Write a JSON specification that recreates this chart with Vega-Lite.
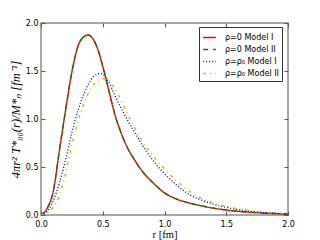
{
  "$schema": "https://vega.github.io/schema/vega-lite/v6.json",
  "width": 247,
  "height": 192,
  "autosize": "none",
  "padding": {"left": 41, "top": 23, "right": 32, "bottom": 25},
  "background": "white",
  "config": {
    "view": {"stroke": "#8a8a8a", "strokeWidth": 1.5},
    "axis": {"domain": false, "grid": false, "labelFlush": false, "labelFont": "DejaVu Sans", "labelFontSize": 8, "labelColor": "#000", "tickColor": "#555", "tickSize": -4, "titleFont": "Liberation Serif", "titleFontWeight": "normal", "titleColor": "#000"}
  },
  "datasets": {
    "curves": [
      {"r": 0.0, "v": 0.0, "s": "ρ=0  Model I"},
      {"r": 0.05, "v": 0.07, "s": "ρ=0  Model I"},
      {"r": 0.1, "v": 0.25, "s": "ρ=0  Model I"},
      {"r": 0.15, "v": 0.68, "s": "ρ=0  Model I"},
      {"r": 0.2, "v": 1.1, "s": "ρ=0  Model I"},
      {"r": 0.25, "v": 1.49, "s": "ρ=0  Model I"},
      {"r": 0.3, "v": 1.76, "s": "ρ=0  Model I"},
      {"r": 0.35, "v": 1.86, "s": "ρ=0  Model I"},
      {"r": 0.38, "v": 1.875, "s": "ρ=0  Model I"},
      {"r": 0.4, "v": 1.865, "s": "ρ=0  Model I"},
      {"r": 0.45, "v": 1.76, "s": "ρ=0  Model I"},
      {"r": 0.5, "v": 1.55, "s": "ρ=0  Model I"},
      {"r": 0.55, "v": 1.29, "s": "ρ=0  Model I"},
      {"r": 0.6, "v": 1.04, "s": "ρ=0  Model I"},
      {"r": 0.65, "v": 0.85, "s": "ρ=0  Model I"},
      {"r": 0.7, "v": 0.7, "s": "ρ=0  Model I"},
      {"r": 0.75, "v": 0.59, "s": "ρ=0  Model I"},
      {"r": 0.8, "v": 0.49, "s": "ρ=0  Model I"},
      {"r": 0.85, "v": 0.41, "s": "ρ=0  Model I"},
      {"r": 0.9, "v": 0.345, "s": "ρ=0  Model I"},
      {"r": 1.0, "v": 0.23, "s": "ρ=0  Model I"},
      {"r": 1.1, "v": 0.165, "s": "ρ=0  Model I"},
      {"r": 1.2, "v": 0.125, "s": "ρ=0  Model I"},
      {"r": 1.3, "v": 0.095, "s": "ρ=0  Model I"},
      {"r": 1.4, "v": 0.07, "s": "ρ=0  Model I"},
      {"r": 1.5, "v": 0.052, "s": "ρ=0  Model I"},
      {"r": 1.6, "v": 0.038, "s": "ρ=0  Model I"},
      {"r": 1.7, "v": 0.028, "s": "ρ=0  Model I"},
      {"r": 1.8, "v": 0.02, "s": "ρ=0  Model I"},
      {"r": 1.9, "v": 0.015, "s": "ρ=0  Model I"},
      {"r": 2.0, "v": 0.01, "s": "ρ=0  Model I"},
      {"r": 0.0, "v": 0.0, "s": "ρ=0  Model II"},
      {"r": 0.05, "v": 0.07, "s": "ρ=0  Model II"},
      {"r": 0.1, "v": 0.25, "s": "ρ=0  Model II"},
      {"r": 0.15, "v": 0.68, "s": "ρ=0  Model II"},
      {"r": 0.2, "v": 1.1, "s": "ρ=0  Model II"},
      {"r": 0.25, "v": 1.49, "s": "ρ=0  Model II"},
      {"r": 0.3, "v": 1.76, "s": "ρ=0  Model II"},
      {"r": 0.35, "v": 1.86, "s": "ρ=0  Model II"},
      {"r": 0.38, "v": 1.875, "s": "ρ=0  Model II"},
      {"r": 0.4, "v": 1.865, "s": "ρ=0  Model II"},
      {"r": 0.45, "v": 1.76, "s": "ρ=0  Model II"},
      {"r": 0.5, "v": 1.55, "s": "ρ=0  Model II"},
      {"r": 0.55, "v": 1.29, "s": "ρ=0  Model II"},
      {"r": 0.6, "v": 1.04, "s": "ρ=0  Model II"},
      {"r": 0.65, "v": 0.85, "s": "ρ=0  Model II"},
      {"r": 0.7, "v": 0.7, "s": "ρ=0  Model II"},
      {"r": 0.75, "v": 0.59, "s": "ρ=0  Model II"},
      {"r": 0.8, "v": 0.49, "s": "ρ=0  Model II"},
      {"r": 0.85, "v": 0.41, "s": "ρ=0  Model II"},
      {"r": 0.9, "v": 0.345, "s": "ρ=0  Model II"},
      {"r": 1.0, "v": 0.23, "s": "ρ=0  Model II"},
      {"r": 1.1, "v": 0.165, "s": "ρ=0  Model II"},
      {"r": 1.2, "v": 0.125, "s": "ρ=0  Model II"},
      {"r": 1.3, "v": 0.095, "s": "ρ=0  Model II"},
      {"r": 1.4, "v": 0.07, "s": "ρ=0  Model II"},
      {"r": 1.5, "v": 0.052, "s": "ρ=0  Model II"},
      {"r": 1.6, "v": 0.038, "s": "ρ=0  Model II"},
      {"r": 1.7, "v": 0.028, "s": "ρ=0  Model II"},
      {"r": 1.8, "v": 0.02, "s": "ρ=0  Model II"},
      {"r": 1.9, "v": 0.015, "s": "ρ=0  Model II"},
      {"r": 2.0, "v": 0.01, "s": "ρ=0  Model II"},
      {"r": 0.0, "v": 0.0, "s": "ρ=ρ₀ Model I"},
      {"r": 0.05, "v": 0.04, "s": "ρ=ρ₀ Model I"},
      {"r": 0.1, "v": 0.15, "s": "ρ=ρ₀ Model I"},
      {"r": 0.15, "v": 0.34, "s": "ρ=ρ₀ Model I"},
      {"r": 0.2, "v": 0.58, "s": "ρ=ρ₀ Model I"},
      {"r": 0.25, "v": 0.86, "s": "ρ=ρ₀ Model I"},
      {"r": 0.3, "v": 1.09, "s": "ρ=ρ₀ Model I"},
      {"r": 0.35, "v": 1.27, "s": "ρ=ρ₀ Model I"},
      {"r": 0.4, "v": 1.4, "s": "ρ=ρ₀ Model I"},
      {"r": 0.45, "v": 1.465, "s": "ρ=ρ₀ Model I"},
      {"r": 0.48, "v": 1.475, "s": "ρ=ρ₀ Model I"},
      {"r": 0.5, "v": 1.465, "s": "ρ=ρ₀ Model I"},
      {"r": 0.55, "v": 1.38, "s": "ρ=ρ₀ Model I"},
      {"r": 0.6, "v": 1.24, "s": "ρ=ρ₀ Model I"},
      {"r": 0.65, "v": 1.11, "s": "ρ=ρ₀ Model I"},
      {"r": 0.7, "v": 0.99, "s": "ρ=ρ₀ Model I"},
      {"r": 0.75, "v": 0.88, "s": "ρ=ρ₀ Model I"},
      {"r": 0.8, "v": 0.77, "s": "ρ=ρ₀ Model I"},
      {"r": 0.85, "v": 0.67, "s": "ρ=ρ₀ Model I"},
      {"r": 0.9, "v": 0.58, "s": "ρ=ρ₀ Model I"},
      {"r": 0.95, "v": 0.5, "s": "ρ=ρ₀ Model I"},
      {"r": 1.0, "v": 0.43, "s": "ρ=ρ₀ Model I"},
      {"r": 1.1, "v": 0.31, "s": "ρ=ρ₀ Model I"},
      {"r": 1.2, "v": 0.215, "s": "ρ=ρ₀ Model I"},
      {"r": 1.3, "v": 0.155, "s": "ρ=ρ₀ Model I"},
      {"r": 1.4, "v": 0.11, "s": "ρ=ρ₀ Model I"},
      {"r": 1.5, "v": 0.08, "s": "ρ=ρ₀ Model I"},
      {"r": 1.6, "v": 0.055, "s": "ρ=ρ₀ Model I"},
      {"r": 1.7, "v": 0.038, "s": "ρ=ρ₀ Model I"},
      {"r": 1.8, "v": 0.026, "s": "ρ=ρ₀ Model I"},
      {"r": 1.9, "v": 0.018, "s": "ρ=ρ₀ Model I"},
      {"r": 2.0, "v": 0.012, "s": "ρ=ρ₀ Model I"},
      {"r": 0.0, "v": 0.0, "s": "ρ=ρ₀ Model II"},
      {"r": 0.05, "v": 0.02, "s": "ρ=ρ₀ Model II"},
      {"r": 0.1, "v": 0.08, "s": "ρ=ρ₀ Model II"},
      {"r": 0.15, "v": 0.21, "s": "ρ=ρ₀ Model II"},
      {"r": 0.2, "v": 0.44, "s": "ρ=ρ₀ Model II"},
      {"r": 0.25, "v": 0.73, "s": "ρ=ρ₀ Model II"},
      {"r": 0.3, "v": 0.98, "s": "ρ=ρ₀ Model II"},
      {"r": 0.35, "v": 1.17, "s": "ρ=ρ₀ Model II"},
      {"r": 0.4, "v": 1.31, "s": "ρ=ρ₀ Model II"},
      {"r": 0.45, "v": 1.39, "s": "ρ=ρ₀ Model II"},
      {"r": 0.5, "v": 1.42, "s": "ρ=ρ₀ Model II"},
      {"r": 0.52, "v": 1.42, "s": "ρ=ρ₀ Model II"},
      {"r": 0.55, "v": 1.4, "s": "ρ=ρ₀ Model II"},
      {"r": 0.6, "v": 1.31, "s": "ρ=ρ₀ Model II"},
      {"r": 0.65, "v": 1.19, "s": "ρ=ρ₀ Model II"},
      {"r": 0.7, "v": 1.05, "s": "ρ=ρ₀ Model II"},
      {"r": 0.75, "v": 0.93, "s": "ρ=ρ₀ Model II"},
      {"r": 0.8, "v": 0.81, "s": "ρ=ρ₀ Model II"},
      {"r": 0.85, "v": 0.71, "s": "ρ=ρ₀ Model II"},
      {"r": 0.9, "v": 0.63, "s": "ρ=ρ₀ Model II"},
      {"r": 0.95, "v": 0.55, "s": "ρ=ρ₀ Model II"},
      {"r": 1.0, "v": 0.48, "s": "ρ=ρ₀ Model II"},
      {"r": 1.1, "v": 0.35, "s": "ρ=ρ₀ Model II"},
      {"r": 1.2, "v": 0.25, "s": "ρ=ρ₀ Model II"},
      {"r": 1.3, "v": 0.175, "s": "ρ=ρ₀ Model II"},
      {"r": 1.4, "v": 0.125, "s": "ρ=ρ₀ Model II"},
      {"r": 1.5, "v": 0.09, "s": "ρ=ρ₀ Model II"},
      {"r": 1.6, "v": 0.063, "s": "ρ=ρ₀ Model II"},
      {"r": 1.7, "v": 0.044, "s": "ρ=ρ₀ Model II"},
      {"r": 1.8, "v": 0.03, "s": "ρ=ρ₀ Model II"},
      {"r": 1.9, "v": 0.021, "s": "ρ=ρ₀ Model II"},
      {"r": 2.0, "v": 0.014, "s": "ρ=ρ₀ Model II"}
    ]
  },
  "data": {"name": "curves"},
  "layer": [
    {
      "mark": {"type": "line", "strokeWidth": 1.4, "interpolate": "monotone", "clip": true},
      "encoding": {
        "x": {"field": "r", "type": "quantitative", "scale": {"domain": [0, 2], "nice": false}, "axis": {"values": [0, 0.5, 1, 1.5, 2], "format": ".1f", "labelPadding": 9, "title": "r [fm]", "titleFontSize": 10.5, "titlePadding": 1}},
        "y": {"field": "v", "type": "quantitative", "scale": {"domain": [0, 2], "nice": false}, "axis": {"values": [0, 0.5, 1, 1.5, 2], "format": ".1f", "labelPadding": 7, "title": "4πr² T*₀₀(r)/M*ₙ  [fm⁻¹]", "titleFontSize": 12.5, "titleFontStyle": "italic", "titlePadding": 3}},
        "color": {"field": "s", "type": "nominal", "sort": null, "scale": {"domain": ["ρ=0  Model I", "ρ=0  Model II", "ρ=ρ₀ Model I", "ρ=ρ₀ Model II"], "range": ["#ff0000", "#008000", "#0000ff", "#bfbf00"]},
          "legend": {"orient": "none", "legendX": 158, "legendY": 4, "title": null, "symbolType": "stroke", "symbolSize": 160, "symbolStrokeWidth": 1.4, "labelFont": "DejaVu Sans", "labelFontSize": 8, "labelColor": "#000", "labelOffset": 8, "rowPadding": 0, "padding": 3, "strokeColor": "#333", "fillColor": "white"}},
        "strokeDash": {"field": "s", "type": "nominal", "sort": null, "scale": {"domain": ["ρ=0  Model I", "ρ=0  Model II", "ρ=ρ₀ Model I", "ρ=ρ₀ Model II"], "range": [[1, 0], [5, 5], [1, 2], [3, 4, 1, 4]]}}
      }
    },
    {
      "mark": {"type": "rule", "opacity": 0},
      "encoding": {
        "x": {"field": "r", "type": "quantitative", "axis": {"orient": "top", "values": [0, 0.5, 1, 1.5, 2], "labels": false, "title": null}},
        "y": {"field": "v", "type": "quantitative", "axis": {"orient": "right", "values": [0, 0.5, 1, 1.5, 2], "labels": false, "title": null}}
      }
    }
  ],
  "resolve": {"axis": {"x": "independent", "y": "independent"}}
}
